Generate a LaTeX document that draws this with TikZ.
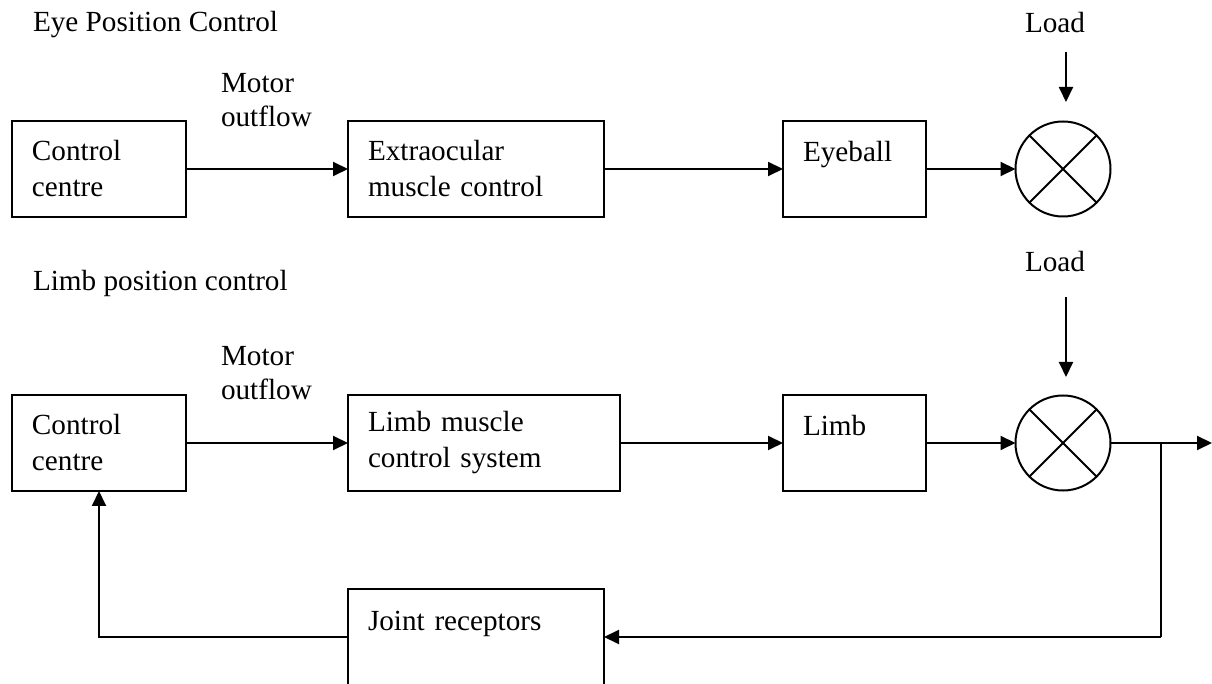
\documentclass[tikz,border=0pt]{standalone}
\usepackage{fontspec}
\setmainfont{Liberation Serif}
\usetikzlibrary{arrows.meta,positioning}

\begin{document}
\begin{tikzpicture}[x=0.5pt,y=-0.5pt,>={Triangle[length=7.5pt,width=7pt]},line width=1pt,
    font=\fontsize{14.6}{17}\selectfont,
    blk/.style={draw,rectangle,anchor=north west,align=left,inner xsep=10pt,inner ysep=0pt,outer sep=0pt,minimum height=48pt},
    sumpt/.style={draw,circle,minimum size=47.5pt,inner sep=0pt,outer sep=0pt},
    txt/.style={anchor=west,align=left,inner sep=0pt}]
  \useasboundingbox (0,0) rectangle (1212,684);

  \node[txt] (eyetitle) at (32,25) {Eye Position Control};
  \node[blk,text width=67pt] (cc1) at (12,121) {Control\\[1pt]centre};
  \node[txt] (mo1) at (220,100) {Motor\\outflow};
  \node[blk,text width=108pt] (eom) at (348,121) {Extraocular\\[1pt]muscle control};
  \node[blk,text width=51.5pt] (eye) at (783,121) {Eyeball\\[1pt]~};
  \node[sumpt] (sum1) at (1063,169) {};
  \draw (sum1.north west) -- (sum1.south east) (sum1.north east) -- (sum1.south west);
  \node (load1) at (1055,23) {Load};
  \coordinate (l1a) at (1066,52);
  \coordinate (l1b) at (1066,102);
  \draw[->] (cc1.east) -- (eom.west);
  \draw[->] (eom.east) -- (eye.west);
  \draw[->] (eye.east) -- (sum1.west);
  \draw[->] (l1a) -- (l1b);

  \node[txt] (limbtitle) at (32,283) {Limb position control};
  \node[blk,text width=67pt] (cc2) at (12,395) {Control\\[1pt]centre};
  \node[txt] (mo2) at (220,373) {Motor\\outflow};
  \node[blk,text width=116pt] (lmc) at (348,395) {Limb muscle\\[1pt]control system};
  \node[blk,text width=51.5pt] (limb) at (783,395) {Limb\\[1pt]~};
  \node[sumpt] (sum2) at (1063,443) {};
  \draw (sum2.north west) -- (sum2.south east) (sum2.north east) -- (sum2.south west);
  \node (load2) at (1055,262) {Load};
  \coordinate (l2a) at (1066,297);
  \coordinate (l2b) at (1066,377);
  \node[blk,text width=108pt,minimum height=50pt] (jr) at (348,589) {Joint receptors\\[1pt]~};
  \coordinate (out) at (1212,443);
  \coordinate (br) at (1161,443);
  \coordinate (fb) at (1161,637);
  \draw[->] (cc2.east) -- (lmc.west);
  \draw[->] (lmc.east) -- (limb.west);
  \draw[->] (limb.east) -- (sum2.west);
  \draw[->] (l2a) -- (l2b);
  \draw[->] (sum2.east) -- (out);
  \draw (br) -- (fb);
  \draw[->] (fb) -- (fb -| jr.east);
  \draw[->] (jr.west |- fb) -| (cc2.south);
\end{tikzpicture}
\end{document}
